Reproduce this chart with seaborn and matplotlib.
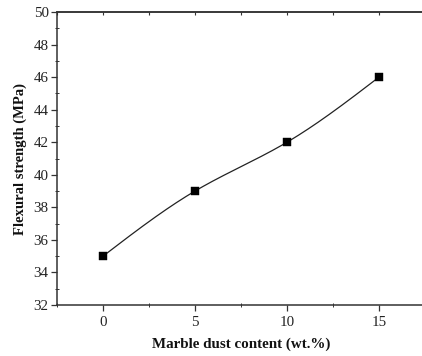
import numpy as np
import pandas as pd
import matplotlib
matplotlib.use("Agg")
import matplotlib.pyplot as plt
import seaborn as sns

# Marble dust content (wt.%) and flexural strength (MPa)
dust_content = [0, 5, 10, 15]
flexural_strength = [35, 39, 42, 46]
x_ticks = [0, 5, 10, 15]
y_ticks = [32, 34, 36, 38, 40, 42, 44, 46, 48, 50]


def natural_spline(x, y, n=200):
    """Natural cubic spline through the measured points."""
    x = np.asarray(x, float)
    y = np.asarray(y, float)
    k = len(x)
    h = np.diff(x)
    A = np.zeros((k, k))
    r = np.zeros(k)
    A[0, 0] = A[-1, -1] = 1
    for i in range(1, k - 1):
        A[i, i - 1] = h[i - 1]
        A[i, i] = 2 * (h[i - 1] + h[i])
        A[i, i + 1] = h[i]
        r[i] = 6 * ((y[i + 1] - y[i]) / h[i] - (y[i] - y[i - 1]) / h[i - 1])
    m = np.linalg.solve(A, r)
    xs = np.linspace(x[0], x[-1], n)
    idx = np.clip(np.searchsorted(x, xs) - 1, 0, k - 2)
    x0, x1 = x[idx], x[idx + 1]
    hh = x1 - x0
    t0, t1 = x1 - xs, xs - x0
    ys = (m[idx] * t0 ** 3 / (6 * hh) + m[idx + 1] * t1 ** 3 / (6 * hh)
          + (y[idx] / hh - m[idx] * hh / 6) * t0
          + (y[idx + 1] / hh - m[idx + 1] * hh / 6) * t1)
    return xs, ys


sns.set_theme(style="ticks")
plt.rcParams["font.family"] = ["Liberation Serif", "DejaVu Serif"]

df = pd.DataFrame({"content": dust_content, "strength": flexural_strength})
sx, sy = natural_spline(dust_content, flexural_strength)
curve = pd.DataFrame({"content": sx, "strength": sy})

fig = plt.figure(figsize=(4.22, 3.56), dpi=100)
ax = fig.add_axes([57 / 422, 51 / 356, 368 / 422, 293 / 356])

sns.lineplot(data=curve, x="content", y="strength", ax=ax,
             color="#222222", linewidth=0.9, sort=False)
sns.scatterplot(data=df, x="content", y="strength", ax=ax, marker="s",
                s=36, color="black", edgecolor="black", linewidth=0.3,
                zorder=3)

ax.set_xlim(-2.5, 17.5)
ax.set_ylim(32, 50)
ax.set_xticks(x_ticks)
ax.set_yticks(y_ticks)
ax.set_xticks([-2.5, 2.5, 7.5, 12.5, 17.5], minor=True)
ax.set_yticks(np.arange(33, 50, 2), minor=True)

for side in ["left", "bottom", "top"]:
    ax.spines[side].set_linewidth(1.1)
    ax.spines[side].set_color("#333333")
ax.spines["right"].set_visible(False)

ax.tick_params(which="major", direction="out", length=4, width=0.9,
               color="#333333", labelsize=10.8, labelcolor="#222222", pad=2)
ax.tick_params(which="minor", direction="inout", length=3, width=0.7,
               color="#333333")
ax.tick_params(axis="x", which="major", pad=4)

# Top axis carries small inward ticks without labels
top = ax.secondary_xaxis("top")
top.set_xticks(x_ticks)
top.set_xticks([-2.5, 2.5, 7.5, 12.5, 17.5], minor=True)
top.tick_params(which="both", direction="in", length=2.5, width=0.8,
                color="#333333", labeltop=False)
top.spines["top"].set_linewidth(1.1)
top.spines["top"].set_color("#333333")

ax.set_xlabel("Marble dust content (wt.%)", fontsize=10.8, fontweight="bold",
              color="#111111", labelpad=6)
ax.set_ylabel("Flexural strength (MPa)", fontsize=10.5, fontweight="bold",
              color="#111111", labelpad=5)

fig.savefig("out.png", dpi=100)
